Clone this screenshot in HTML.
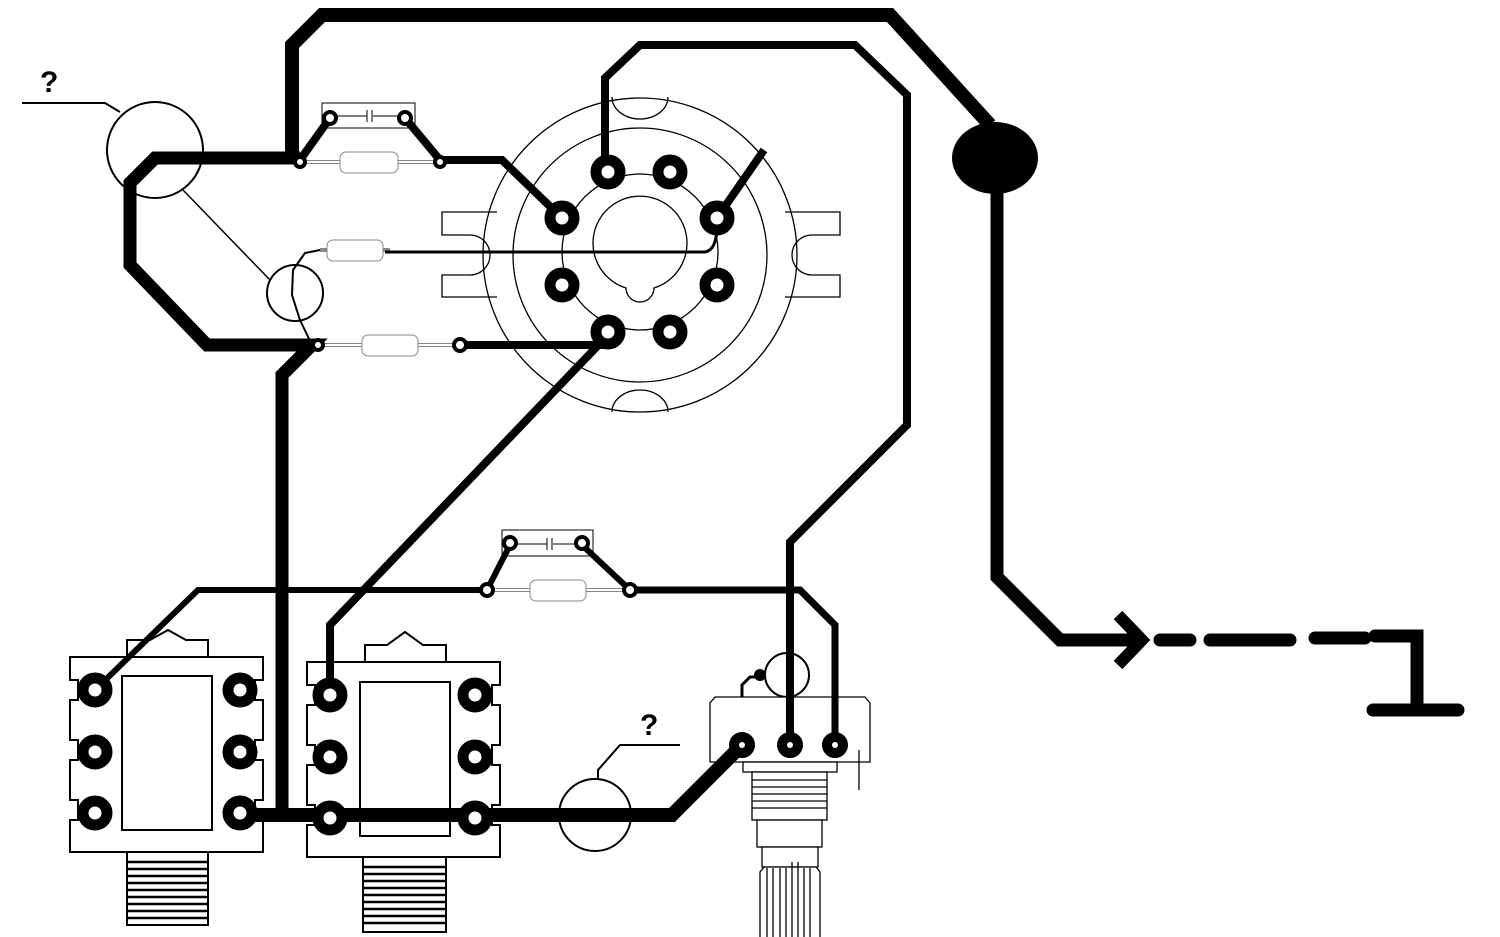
<!DOCTYPE html>
<html><head><meta charset="utf-8"><style>
html,body{margin:0;padding:0;background:#fff;}
svg{display:block}
</style></head><body>
<svg width="1500" height="937" viewBox="0 0 1500 937" xmlns="http://www.w3.org/2000/svg">
<rect width="1500" height="937" fill="#fff"/>
<!-- tube socket outline -->
<g fill="none" stroke="#000" stroke-width="1.3">
<circle cx="640" cy="255" r="157"/>
<circle cx="640" cy="255" r="127"/>
<circle cx="640" cy="252" r="78"/>
<path d="M612 97 A28 22 0 0 0 668 97"/>
<path d="M612 412 A28 22 0 0 1 668 412"/>
<path d="M497 212 H442 V235 H470 A20 20 0 0 1 470 275 H442 V297 H497"/>
<path d="M785 212 H840 V235 H812 A20 20 0 0 0 812 275 H840 V297 H785"/>
<path d="M626 288 A47 47 0 1 1 654 288 A14 14 0 0 1 626 288 Z" fill="#fff"/>
</g>
<!-- thin components -->
<g fill="none" stroke="#000" stroke-width="1">
<rect x="322" y="103" width="93" height="25"/>
<line x1="335" y1="116" x2="367" y2="116"/><line x1="373" y1="116" x2="400" y2="116"/>
<line x1="367" y1="110" x2="367" y2="122"/><line x1="372" y1="110" x2="372" y2="122"/>
<rect x="502" y="530" width="91" height="26"/>
<line x1="515" y1="544" x2="547" y2="544"/><line x1="553" y1="544" x2="580" y2="544"/>
<line x1="547" y1="538" x2="547" y2="550"/><line x1="552" y1="538" x2="552" y2="550"/>
<line x1="300" y1="162" x2="440" y2="162" stroke="#888" stroke-width="4"/>
<line x1="300" y1="162" x2="440" y2="162" stroke="#fff" stroke-width="2"/>
<rect x="340" y="152" width="58" height="21" rx="6" fill="#fff" stroke="#888"/>
<line x1="320" y1="250" x2="390" y2="250" stroke="#888" stroke-width="4"/>
<rect x="327" y="240" width="56" height="21" rx="6" fill="#fff" stroke="#888"/>
<line x1="318" y1="345" x2="460" y2="345" stroke="#888" stroke-width="4"/>
<line x1="318" y1="345" x2="460" y2="345" stroke="#fff" stroke-width="2"/>
<rect x="362" y="335" width="56" height="21" rx="6" fill="#fff" stroke="#888"/>
<line x1="487" y1="590" x2="630" y2="590" stroke="#888" stroke-width="4"/>
<line x1="487" y1="590" x2="630" y2="590" stroke="#fff" stroke-width="2"/>
<rect x="530" y="580" width="56" height="21" rx="6" fill="#fff" stroke="#888"/>
<circle cx="155" cy="150" r="48" stroke-width="2"/>
<circle cx="295" cy="293" r="28" stroke-width="2"/>
<circle cx="595" cy="815" r="36" stroke-width="2"/>
<circle cx="787" cy="675" r="22" stroke-width="2"/>
<line x1="183" y1="190" x2="270" y2="280" stroke-width="1.5"/>
<path d="M22 103 H105 L120 112" stroke-width="2"/>
<path d="M680 745 H620 L598 770 V779" stroke-width="2"/>
<path d="M312 345 L300 320 L292 295 L293 270 L305 253 L320 250" stroke-width="2"/>
<path d="M385 252 H705 Q717 250 717 225" stroke-width="3"/>
<path d="M742 745 V685 L750 677 H762" stroke-width="3"/>
</g>
<!-- jacks -->
<g fill="#fff" stroke="#000" stroke-width="2">
<path d="M127 657 V640 H150 L168 630 L186 640 H208 V657 Z"/>
<path d="M70 657 H263 V680 H255 V700 H263 V740 H255 V760 H263 V800 H255 V820 H263 V852 H70 V820 H78 V800 H70 V760 H78 V740 H70 V700 H78 V680 H70 Z"/>
<rect x="122" y="676" width="90" height="154"/>
<rect x="127" y="852" width="81" height="73"/>
<path d="M365 662 V645 H387 L405 632 L423 645 H446 V662 Z"/>
<path d="M307 662 H500 V685 H492 V705 H500 V745 H492 V765 H500 V805 H492 V825 H500 V857 H307 V825 H315 V805 H307 V765 H315 V745 H307 V705 H315 V685 H307 Z"/>
<rect x="360" y="682" width="90" height="154"/>
<rect x="363" y="857" width="83" height="75"/>
</g>
<g stroke="#000" stroke-width="2.5">
<path d="M127 862H208M127 869H208M127 876H208M127 883H208M127 890H208M127 897H208M127 904H208M127 911H208M127 918H208"/>
<path d="M363 867H446M363 874H446M363 881H446M363 888H446M363 895H446M363 902H446M363 909H446M363 916H446M363 923H446"/>
</g>
<!-- pot -->
<g fill="#fff" stroke="#000" stroke-width="1.3">
<path d="M715 697 H865 L870 703 V762 H710 V703 Z"/>
<rect x="743" y="762" width="94" height="10"/>
<rect x="752" y="772" width="75" height="48"/>
<rect x="757" y="820" width="65" height="27"/>
<rect x="762" y="847" width="56" height="20"/>
<path d="M760 937 V872 L764 867 H816 L820 872 V937"/>
<path d="M767 868V937M773 868V937M780 868V937M786 868V937M792 862V937M798 862V937M804 868V937M810 868V937"/>
<path d="M752 780H827M752 787H827M752 794H827M752 801H827M752 808H827"/>
<line x1="859" y1="750" x2="859" y2="790"/>
</g>
<!-- thick traces -->
<g fill="none" stroke="#000" stroke-linejoin="miter" stroke-linecap="butt">
<path d="M292 160 V45 L322 15 H890 L990 125" stroke-width="14"/>
<path d="M997 190 V577 L1060 640 H1140" stroke-width="13"/>
<path d="M1118 615 L1142 640 L1118 665" stroke-width="12"/>
<path d="M1160 640H1190M1210 640H1290M1315 638H1365M1375 636H1417V705M1373 710H1458" stroke-width="13" stroke-linecap="round"/>
<path d="M300 158 H155 L130 183 V265 L207 345 H312 L282 375 V820" stroke-width="13"/>
<path d="M240 815 H672 L742 745" stroke-width="14"/>
<path d="M605 172 V78 L640 45 H855 L907 95 V425 L790 542 V745" stroke-width="8"/>
<path d="M330 118 L300 160" stroke-width="8"/>
<path d="M405 118 L440 160 H502 L562 218" stroke-width="8"/>
<path d="M717 218 L764 150" stroke-width="8"/>
<path d="M460 345 H608" stroke-width="8"/>
<path d="M608 335 L330 625 V690" stroke-width="8"/>
<path d="M95 690 L198 590 H487" stroke-width="6"/>
<path d="M630 590 H800 L835 625 V745" stroke-width="7"/>
<path d="M510 545 L487 590" stroke-width="6"/>
<path d="M582 545 L630 590" stroke-width="6"/>
</g>
<ellipse cx="995" cy="158" rx="43" ry="36" fill="#000"/>
<circle cx="760" cy="675" r="6" fill="#000"/>
<!-- pads -->
<g fill="#fff" stroke="#000">
<g stroke-width="11">
<circle cx="608" cy="172" r="12"/><circle cx="670" cy="172" r="12"/>
<circle cx="562" cy="218" r="12"/><circle cx="717" cy="218" r="12"/>
<circle cx="562" cy="285" r="12"/><circle cx="717" cy="285" r="12"/>
<circle cx="608" cy="332" r="12"/><circle cx="670" cy="332" r="12"/>
<circle cx="95" cy="690" r="12"/><circle cx="95" cy="752" r="12"/><circle cx="95" cy="813" r="12"/>
<circle cx="240" cy="690" r="12"/><circle cx="240" cy="752" r="12"/><circle cx="240" cy="813" r="12"/>
<circle cx="330" cy="695" r="12"/><circle cx="330" cy="757" r="12"/><circle cx="330" cy="818" r="12"/>
<circle cx="475" cy="695" r="12"/><circle cx="475" cy="757" r="12"/><circle cx="475" cy="818" r="12"/>
</g>
<g stroke-width="10">
<circle cx="742" cy="745" r="8"/><circle cx="790" cy="745" r="8"/><circle cx="835" cy="745" r="8"/>
</g>
<g stroke-width="4">
<circle cx="330" cy="118" r="6"/><circle cx="405" cy="118" r="6"/>
<circle cx="300" cy="162" r="5"/><circle cx="440" cy="162" r="5"/>
<circle cx="318" cy="345" r="5"/><circle cx="460" cy="345" r="6"/>
<circle cx="510" cy="543" r="6"/><circle cx="582" cy="543" r="6"/>
<circle cx="487" cy="590" r="6"/><circle cx="630" cy="590" r="6"/>
</g>
</g>
<text x="40" y="92" font-family="Liberation Sans, sans-serif" font-size="30" font-weight="bold">?</text>
<text x="640" y="735" font-family="Liberation Sans, sans-serif" font-size="30" font-weight="bold">?</text>
</svg>
</body></html>
